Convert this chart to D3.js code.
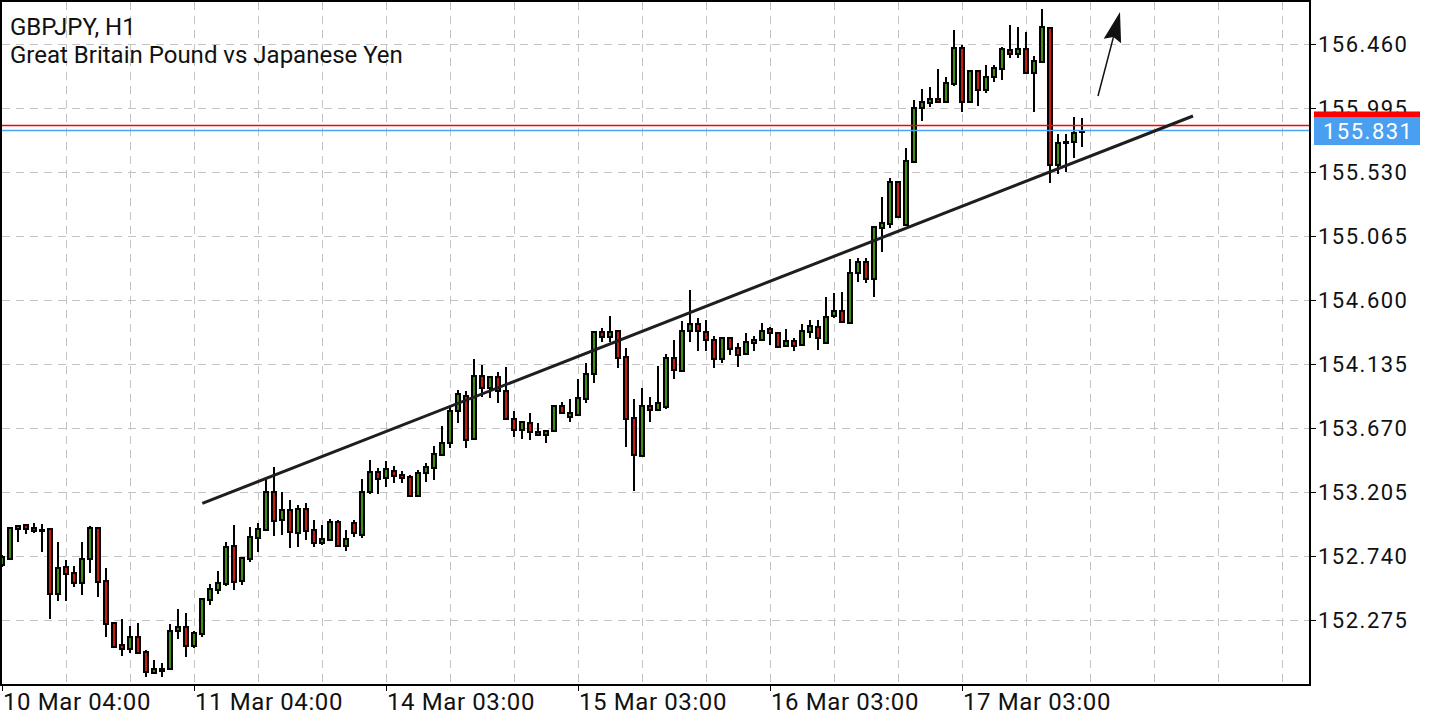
<!DOCTYPE html>
<html>
<head>
<meta charset="utf-8">
<script src="https://cdn.jsdelivr.net/npm/d3@7"></script>
<style>
  html, body { margin: 0; padding: 0; background: #ffffff; }
  svg { display: block; }
  text { font-family: Roboto, "Liberation Sans", Arial, sans-serif; }
</style>
</head>
<body>
<svg id="chart" width="1440" height="720"></svg>
<script>
// ---------------- DATA ----------------
const symbolTitle = "GBPJPY, H1";
const symbolDesc = "Great Britain Pound vs Japanese Yen";

const opens = [152.674,152.718,152.934,152.965,152.943,152.926,152.934,152.464,152.660,152.616,
152.544,152.716,152.941,152.556,152.253,152.093,152.066,152.149,152.040,151.892,
151.917,151.917,152.195,152.226,152.086,152.173,152.420,152.493,152.536,152.812,
152.558,152.716,152.871,152.929,153.205,153.001,153.074,152.907,153.081,152.929,
152.834,152.856,152.987,152.812,152.980,152.892,153.207,153.352,153.309,153.360,
153.328,153.312,153.176,153.345,153.377,153.474,153.559,153.793,153.902,153.588,
154.048,153.958,154.043,153.939,153.737,153.655,153.708,153.643,153.619,153.648,
153.832,153.752,153.764,153.878,154.060,154.365,154.329,154.375,154.184,153.740,
153.469,153.832,153.801,153.825,154.176,154.086,154.375,154.423,154.370,154.309,
154.171,154.326,154.249,154.208,154.290,154.309,154.389,154.358,154.266,154.302,
154.271,154.365,154.402,154.285,154.486,154.520,154.431,154.794,154.878,154.752,
155.121,155.152,155.459,155.145,155.600,155.993,156.029,156.063,156.039,156.169,
156.429,156.041,156.266,156.126,156.222,156.278,156.416,156.387,156.421,156.251,
156.327,156.578,155.581,155.739,155.746,155.822];
const highs = [152.747,152.950,152.962,152.972,152.977,152.972,152.941,152.842,152.711,152.667,
152.842,152.958,152.945,152.653,152.260,152.282,152.231,152.253,152.057,151.984,
151.960,152.246,152.355,152.324,152.195,152.427,152.536,152.631,152.839,152.965,
152.725,152.948,152.980,153.299,153.387,153.205,153.147,153.110,153.125,153.001,
152.965,153.009,153.001,152.929,153.001,153.299,153.437,153.379,153.430,153.394,
153.357,153.328,153.365,153.418,153.539,153.684,153.830,153.946,153.939,154.169,
154.128,154.048,154.079,154.115,153.793,153.716,153.781,153.704,153.652,153.834,
153.857,153.881,154.026,154.140,154.367,154.394,154.484,154.382,154.249,153.881,
153.958,153.893,154.120,154.205,154.309,154.447,154.673,154.469,154.455,154.338,
154.328,154.328,154.290,154.362,154.338,154.435,154.406,154.370,154.387,154.322,
154.426,154.455,154.455,154.620,154.649,154.656,154.896,154.903,154.903,155.140,
155.350,155.484,155.461,155.702,156.053,156.131,156.145,156.276,156.218,156.562,
156.453,156.268,156.268,156.307,156.307,156.440,156.598,156.581,156.549,156.373,
156.712,156.580,155.804,155.804,155.927,155.920];
const lows = [152.660,152.711,152.844,152.900,152.905,152.771,152.284,152.415,152.415,152.517,
152.459,152.619,152.444,152.149,152.079,152.011,152.033,152.031,151.863,151.888,
151.858,151.915,152.135,152.004,152.069,152.149,152.384,152.464,152.524,152.493,
152.529,152.696,152.769,152.927,152.885,152.892,152.798,152.805,152.856,152.805,
152.820,152.854,152.805,152.776,152.878,152.871,153.190,153.190,153.239,153.272,
153.272,153.174,153.174,153.280,153.292,153.472,153.522,153.704,153.522,153.586,
153.897,153.886,153.849,153.731,153.602,153.588,153.580,153.617,153.563,153.646,
153.775,153.716,153.762,153.854,153.995,154.293,154.293,154.108,153.534,153.214,
153.461,153.716,153.799,153.806,154.026,154.084,154.297,154.232,154.232,154.104,
154.140,154.200,154.111,154.206,154.232,154.307,154.273,154.259,154.264,154.232,
154.269,154.322,154.237,154.283,154.467,154.440,154.429,154.733,154.721,154.624,
154.951,155.121,155.199,155.138,155.593,155.903,156.000,156.029,156.037,156.155,
155.968,156.039,156.010,156.102,156.186,156.198,156.356,156.356,156.249,155.968,
156.320,155.452,155.515,155.532,155.630,155.714];
const closes = [152.733,152.943,152.960,152.936,152.921,152.922,152.462,152.653,152.609,152.544,
152.718,152.941,152.551,152.244,152.081,152.066,152.149,152.033,151.895,151.917,
151.906,152.197,152.226,152.086,152.178,152.425,152.498,152.546,152.803,152.553,
152.723,152.876,152.936,153.205,152.994,153.074,152.914,153.081,152.921,152.834,
152.863,152.987,152.812,152.863,152.907,153.207,153.352,153.297,153.370,153.321,
153.309,153.176,153.345,153.384,153.479,153.563,153.793,153.915,153.583,154.048,
153.958,154.038,153.939,153.733,153.655,153.713,153.641,153.619,153.650,153.832,
153.777,153.777,153.886,154.064,154.365,154.329,154.370,154.176,153.733,153.474,
153.832,153.801,153.849,154.176,154.091,154.377,154.423,154.375,154.309,154.171,
154.326,154.244,154.200,154.293,154.309,154.377,154.358,154.261,154.302,154.266,
154.377,154.411,154.322,154.479,154.520,154.442,154.798,154.878,154.752,155.128,
155.157,155.459,155.201,155.612,155.993,156.041,156.063,156.039,156.174,156.429,
156.041,156.266,156.126,156.222,156.283,156.421,156.387,156.421,156.251,156.339,
156.586,155.581,155.743,155.750,155.816,155.831];

const priceTicks = [152.275,152.740,153.205,153.670,154.135,154.600,155.065,155.530,155.995,156.460];
const timeTickIndex = [0,24,48,72,96,120];
const timeTickLabels = ["10 Mar 04:00","11 Mar 04:00","14 Mar 03:00","15 Mar 03:00","16 Mar 03:00","17 Mar 03:00"];
const gridEvery = 8;          // vertical grid every 8 bars
const bidPrice = 155.831;
const askPrice = 155.868;
// trend line (bar index, price)
const trendIdx = [25.04, 148.875];
const trendPrice = [153.123, 155.937];
// arrow (bar index, price)
const arrowIdx = [137, 139.75];
const arrowPrice = [156.082, 156.693];

// ---------------- LAYOUT ----------------
const W = 1440, H = 720;
const plot = { left: 2, right: 1310, top: 2, bottom: 685 };
const svg = d3.select("#chart");

const x = d3.scaleLinear().domain([0, 163.5]).range([plot.left, plot.right]);
const y = d3.scaleLinear().domain([152.275, 156.460]).range([620, 44]);

const bull = "#3f8f0f", bear = "#cc1a10";

svg.append("rect").attr("width", W).attr("height", H).attr("fill", "#fff");

svg.append("defs").append("clipPath").attr("id", "clip")
  .append("rect").attr("x", plot.left).attr("y", plot.top)
  .attr("width", plot.right - plot.left).attr("height", plot.bottom - plot.top);

const g = svg.append("g").attr("clip-path", "url(#clip)");

// grid
const gridColor = "#c4c4c4";
const vIdx = d3.range(gridEvery, 164, gridEvery);
g.selectAll("line.vg").data(vIdx).enter().append("line")
  .attr("x1", d => x(d) + 0.5).attr("x2", d => x(d) + 0.5)
  .attr("y1", plot.top).attr("y2", plot.bottom)
  .attr("stroke", gridColor).attr("stroke-width", 1).attr("stroke-dasharray", "8,6");
g.selectAll("line.hg").data(priceTicks).enter().append("line")
  .attr("x1", plot.left).attr("x2", plot.right)
  .attr("y1", d => Math.round(y(d)) + 0.5).attr("y2", d => Math.round(y(d)) + 0.5)
  .attr("stroke", gridColor).attr("stroke-width", 1).attr("stroke-dasharray", "8,6");

// title
svg.append("text").attr("x", 10).attr("y", 35).attr("font-size", 24).attr("fill", "#111").text(symbolTitle);
svg.append("text").attr("x", 10).attr("y", 63).attr("font-size", 24).attr("fill", "#111").text(symbolDesc);

// candles
const candles = opens.map((o, i) => ({ i, o, h: highs[i], l: lows[i], c: closes[i] }));
const cg = g.append("g");
cg.selectAll("line.wick").data(candles).enter().append("line")
  .attr("x1", d => x(d.i)).attr("x2", d => x(d.i))
  .attr("y1", d => Math.round(y(d.h))).attr("y2", d => Math.round(y(d.l)))
  .attr("stroke", "#000").attr("stroke-width", 2);
cg.selectAll("rect.body").data(candles).enter().append("rect")
  .attr("x", d => x(d.i) - 2).attr("width", 4)
  .attr("y", d => Math.round(y(Math.max(d.o, d.c))))
  .attr("height", d => Math.max(0.01, Math.round(y(Math.min(d.o, d.c))) - Math.round(y(Math.max(d.o, d.c)))))
  .attr("fill", d => d.c >= d.o ? bull : bear)
  .attr("stroke", "#000").attr("stroke-width", 2);

// bid / ask lines
g.append("line").attr("x1", plot.left).attr("x2", plot.right)
  .attr("y1", y(askPrice)).attr("y2", y(askPrice)).attr("stroke", "#ff0000").attr("stroke-width", 1.5);
g.append("line").attr("x1", plot.left).attr("x2", plot.right)
  .attr("y1", y(bidPrice)).attr("y2", y(bidPrice)).attr("stroke", "#4aa3f5").attr("stroke-width", 1.5);

// trend line
g.append("line")
  .attr("x1", x(trendIdx[0])).attr("y1", y(trendPrice[0]))
  .attr("x2", x(trendIdx[1])).attr("y2", y(trendPrice[1]))
  .attr("stroke", "#1e1e1e").attr("stroke-width", 3);

// arrow
{
  const x0 = x(arrowIdx[0]), y0 = y(arrowPrice[0]), x1 = x(arrowIdx[1]), y1 = y(arrowPrice[1]);
  const dx = x1 - x0, dy = y1 - y0, len = Math.hypot(dx, dy);
  const ux = dx / len, uy = dy / len, px = -uy, py = ux;
  const headL = 30, headW = 9;
  const bx = x1 - ux * headL, by = y1 - uy * headL;
  g.append("line").attr("x1", x0).attr("y1", y0).attr("x2", bx + ux * 4).attr("y2", by + uy * 4)
    .attr("stroke", "#111").attr("stroke-width", 1.5);
  g.append("path")
    .attr("d", `M${x1},${y1} L${bx + px * headW},${by + py * headW} L${bx + ux * 4},${by + uy * 4} L${bx - px * headW},${by - py * headW} Z`)
    .attr("fill", "#111");
}

// frame
svg.append("rect").attr("x", plot.left - 1).attr("y", plot.top - 1)
  .attr("width", plot.right - plot.left + 1).attr("height", plot.bottom - plot.top + 1)
  .attr("fill", "none").attr("stroke", "#000").attr("stroke-width", 2);

// price axis
const ax = svg.append("g");
ax.selectAll("line.pt").data(priceTicks).enter().append("line")
  .attr("x1", plot.right).attr("x2", plot.right + 6)
  .attr("y1", d => Math.round(y(d)) + 0.5).attr("y2", d => Math.round(y(d)) + 0.5)
  .attr("stroke", "#000").attr("stroke-width", 1);
ax.selectAll("text.pl").data(priceTicks).enter().append("text")
  .attr("x", plot.right + 8).attr("y", d => y(d)).attr("dy", "0.36em")
  .attr("font-size", 22).attr("letter-spacing", 1.5).attr("fill", "#111")
  .text(d => d.toFixed(3));

// ask label (red) behind, bid label (blue) on top
ax.append("rect").attr("x", plot.right + 4).attr("y", y(askPrice) - 14)
  .attr("width", 106).attr("height", 28).attr("fill", "#ff0000");
ax.append("rect").attr("x", plot.right + 4).attr("y", y(bidPrice) - 14 + 0.5)
  .attr("width", 106).attr("height", 28).attr("fill", "#4a9ff0");
ax.append("text").attr("x", plot.right + 13).attr("y", y(bidPrice) + 0.5).attr("dy", "0.36em")
  .attr("font-size", 22).attr("letter-spacing", 1.5).attr("fill", "#fff").text(bidPrice.toFixed(3));

// time axis
ax.selectAll("line.tt").data(timeTickIndex).enter().append("line")
  .attr("x1", d => x(d) + 0.5).attr("x2", d => x(d) + 0.5)
  .attr("y1", plot.bottom).attr("y2", plot.bottom + 6)
  .attr("stroke", "#000").attr("stroke-width", 1);
ax.selectAll("text.tl").data(timeTickIndex).enter().append("text")
  .attr("x", d => x(d) + 1).attr("y", 710)
  .attr("font-size", 24).attr("letter-spacing", 0.6).attr("fill", "#111")
  .text((d, i) => timeTickLabels[i]);
</script>
</body>
</html>
